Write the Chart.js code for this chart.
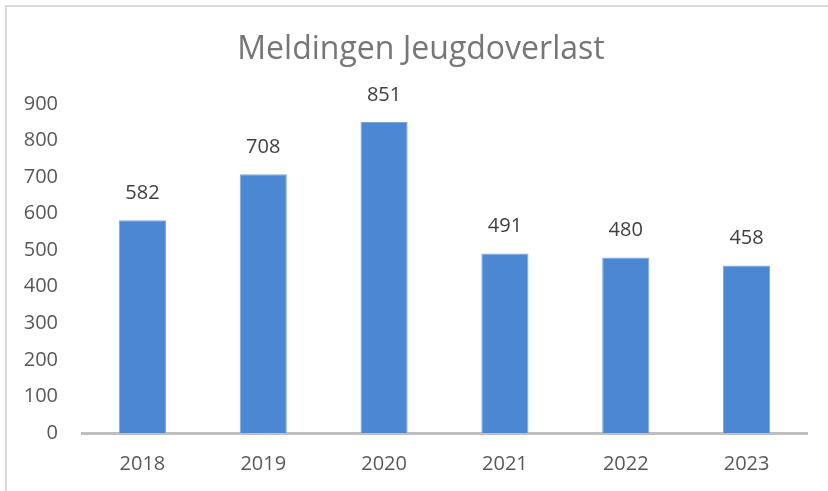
<!DOCTYPE html>
<html>
<head>
<meta charset="utf-8">
<script src="https://cdn.jsdelivr.net/npm/chart.js@4"></script>
<style>
  html, body { margin: 0; padding: 0; background: #ffffff; }
  #wrap { position: relative; width: 828px; height: 491px; }
</style>
</head>
<body>
<div id="wrap"><canvas id="chart"></canvas></div>
<script>
// chart data
const years = ['2018', '2019', '2020', '2021', '2022', '2023'];
const meldingen = [582, 708, 851, 491, 480, 458];
const yTicks = [0, 100, 200, 300, 400, 500, 600, 700, 800, 900];
const chartTitle = 'Meldingen Jeugdoverlast';

const FONT = "'Open Sans', sans-serif";

// frame + title drawn on the canvas
const framePlugin = {
  id: 'frame',
  beforeDraw(chart) {
    const ctx = chart.ctx;
    ctx.save();
    ctx.strokeStyle = '#d9d9d9';
    ctx.lineWidth = 2;
    ctx.beginPath();
    ctx.moveTo(6, chart.height);
    ctx.lineTo(6, 6);
    ctx.lineTo(chart.width, 6);
    ctx.stroke();

    ctx.fillStyle = '#767676';
    ctx.font = '32px ' + FONT;
    ctx.textAlign = 'center';
    ctx.textBaseline = 'middle';
    ctx.fillText(chartTitle, 421, 50);
    ctx.restore();
  }
};

// value labels above each bar
const valueLabels = {
  id: 'valueLabels',
  afterDatasetsDraw(chart) {
    const ctx = chart.ctx;
    ctx.save();
    ctx.fillStyle = '#404040';
    ctx.font = '20px ' + FONT;
    ctx.textAlign = 'center';
    ctx.textBaseline = 'middle';
    chart.getDatasetMeta(0).data.forEach((bar, i) => {
      ctx.fillText(String(meldingen[i]), bar.x, bar.y - 27);
    });
    ctx.restore();
  }
};

new Chart(document.getElementById('chart'), {
  type: 'bar',
  data: {
    labels: years,
    datasets: [{
      label: chartTitle,
      data: meldingen,
      backgroundColor: '#4c87d1',
      borderColor: '#7ba8e2',
      borderWidth: 1,
      barPercentage: 0.39,
      categoryPercentage: 1
    }]
  },
  options: {
    responsive: true,
    maintainAspectRatio: false,
    animation: false,
    layout: {
      padding: { top: 104, right: 21, left: 0, bottom: 0 }
    },
    scales: {
      x: {
        grid: { display: false, drawTicks: false },
        border: { color: '#bfbfbf', width: 3 },
        ticks: {
          color: '#595959',
          padding: 19,
          font: { family: FONT, size: 20 }
        },
        afterFit: (scale) => { scale.height = 58; }
      },
      y: {
        min: 0,
        max: 900,
        grid: { display: false, drawTicks: false },
        border: { display: false },
        afterBuildTicks: (scale) => {
          scale.ticks = yTicks.map(v => ({ value: v }));
        },
        ticks: {
          color: '#595959',
          padding: 24,
          font: { family: FONT, size: 20 }
        },
        afterFit: (scale) => { scale.width = 82; }
      }
    },
    plugins: {
      legend: { display: false },
      title: { display: false },
      tooltip: { enabled: false }
    }
  },
  plugins: [framePlugin, valueLabels]
});
</script>
</body>
</html>
